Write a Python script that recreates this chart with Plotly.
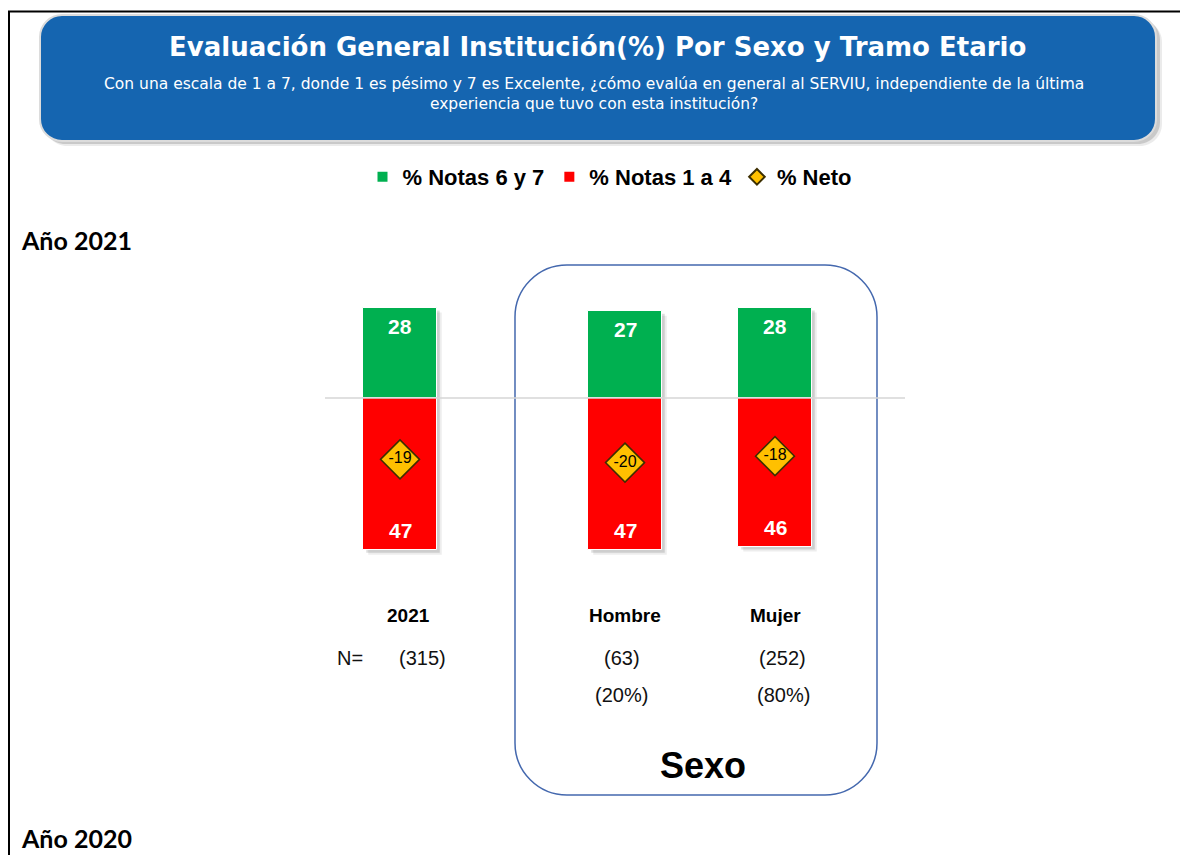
import plotly.graph_objects as go

# the page body has an 8px margin, so the figure starts at (8, 8) on screen
OX, OY = 8, 8
W, H = 1180, 847

# data
categories = ["2021", "Hombre", "Mujer"]
notas_6_7 = [28, 27, 28]
notas_1_4 = [47, 47, 46]
neto = [-19, -20, -18]
n_casos = ["(315)", "(63)", "(252)"]
pct_casos = ["", "(20%)", "(80%)"]

title = "Evaluación General Institución(%) Por Sexo y Tramo Etario"
subtitle = ("Con una escala de 1 a 7, donde 1 es pésimo y 7 es Excelente, ¿cómo evalúa en general al SERVIU, "
            "independiente de la última<br>experiencia que tuvo con esta institución?")

GREEN = "#00B050"
RED = "#FF0000"
GOLD = "#FFC000"
BLUE = "#1565B0"
ARIAL = "Liberation Sans, Arial"
WIDE = "DejaVu Sans, Liberation Sans, Arial"

# layout positions of the categories on the x axis (gap before the Sexo group)
x_pos = [0, 1.5, 2.5]
BAR_W = 0.49

# y: 3.23 px per point, zero at screen pixel 398
y_top_px, y_bot_px, zero_px, scale = 290, 570, 398, 3.23
# x: 150 px per unit, first category at screen pixel 400
x_left_px, x_right_px, x_unit = 325, 925, 150


def px(x):
    """screen pixel x -> paper"""
    return (x - OX) / W


def py(y):
    """screen pixel y -> paper"""
    return 1 - (y - OY) / H


def rounded_path(x0, y0, x1, y1, r):
    """rounded rectangle in screen pixels -> svg path in paper coords"""
    k = 0.552 * r

    def p(x, y):
        return f"{px(x):.5f},{py(y):.5f}"
    return (f"M {p(x0 + r, y0)} L {p(x1 - r, y0)} "
            f"C {p(x1 - r + k, y0)} {p(x1, y0 + r - k)} {p(x1, y0 + r)} "
            f"L {p(x1, y1 - r)} "
            f"C {p(x1, y1 - r + k)} {p(x1 - r + k, y1)} {p(x1 - r, y1)} "
            f"L {p(x0 + r, y1)} "
            f"C {p(x0 + r - k, y1)} {p(x0, y1 - r + k)} {p(x0, y1 - r)} "
            f"L {p(x0, y0 + r)} "
            f"C {p(x0, y0 + r - k)} {p(x0 + r - k, y0)} {p(x0 + r, y0)} Z")


def paper_text(x, y, text, size, family=ARIAL, color="black", xanchor="center"):
    return dict(x=px(x), y=py(y), xref="paper", yref="paper", text=text, showarrow=False,
                xanchor=xanchor, yanchor="middle", font=dict(family=family, size=size, color=color))


fig = go.Figure()

fig.add_trace(go.Bar(x=x_pos, y=notas_6_7, name="<b>% Notas 6 y 7</b>",
                     marker=dict(color=GREEN, line=dict(color="white", width=1)),
                     width=BAR_W, hoverinfo="skip"))
fig.add_trace(go.Bar(x=x_pos, y=[-v for v in notas_1_4], name="<b>% Notas 1 a 4</b>",
                     marker=dict(color=RED, line=dict(color="white", width=1)),
                     width=BAR_W, hoverinfo="skip"))
fig.add_trace(go.Scatter(x=x_pos, y=neto, name="<b>% Neto</b>", mode="markers+text",
                         text=[str(v) for v in neto], textposition="middle center",
                         textfont=dict(family=ARIAL, size=16, color="black"),
                         marker=dict(symbol="diamond", size=30, color=GOLD,
                                     line=dict(color="#3d2f00", width=1.5)),
                         hoverinfo="skip"))

annotations = []
for x, g, r in zip(x_pos, notas_6_7, notas_1_4):
    annotations.append(dict(x=x, y=g, yshift=-19, text=f"<b>{g}</b>", showarrow=False,
                            yanchor="middle", font=dict(family=ARIAL, size=21, color="white")))
    annotations.append(dict(x=x, y=-r, yshift=19, text=f"<b>{r}</b>", showarrow=False,
                            yanchor="middle", font=dict(family=ARIAL, size=21, color="white")))

# category labels and sample sizes
label_shift = [8, 0, 0]
n_shift = [22, -3, 7]
pct_shift = [0, -4, 8]
for i, (x, c) in enumerate(zip(x_pos, categories)):
    annotations.append(dict(x=x, xshift=label_shift[i], y=py(615), yref="paper", yanchor="middle",
                            text=f"<b>{c}</b>", showarrow=False,
                            font=dict(family=ARIAL, size=19, color="black")))
    annotations.append(dict(x=x, xshift=n_shift[i], y=py(658), yref="paper", yanchor="middle",
                            text=n_casos[i], showarrow=False,
                            font=dict(family=ARIAL, size=20, color="#111111")))
    if pct_casos[i]:
        annotations.append(dict(x=x, xshift=pct_shift[i], y=py(695), yref="paper", yanchor="middle",
                                text=pct_casos[i], showarrow=False,
                                font=dict(family=ARIAL, size=20, color="#111111")))

annotations.append(paper_text(335, 658, "N=", 20, color="#111111", xanchor="left"))
annotations.append(paper_text(703, 765, "<b>Sexo</b>", 36))

# header texts
annotations.append(paper_text(597, 47, f"<b>{title}</b>", 26, family=WIDE, color="white"))
annotations.append(paper_text(594, 94, subtitle, 15.5, family=WIDE, color="white"))

# section labels
for t, yy in [("Año 2021", 240), ("Año 2020", 838)]:
    annotations.append(paper_text(19, yy, f"<b>{t}</b>", 25,
                                  family="Lato, Open Sans, sans-serif", xanchor="left"))

shapes = [
    # page frame
    dict(type="line", xref="paper", yref="paper", x0=px(8), x1=px(1188), y0=py(11.5), y1=py(11.5),
         line=dict(color="black", width=2)),
    dict(type="line", xref="paper", yref="paper", x0=px(9), x1=px(9), y0=py(11), y1=py(855),
         line=dict(color="black", width=2)),
    # header box shadow + box
    dict(type="path", xref="paper", yref="paper", path=rounded_path(45, 20, 1162, 146, 22),
         fillcolor="rgba(0,0,0,0.08)", line=dict(width=0), layer="below"),
    dict(type="path", xref="paper", yref="paper", path=rounded_path(43, 18, 1160, 144, 22),
         fillcolor="rgba(0,0,0,0.14)", line=dict(width=0), layer="below"),
    dict(type="path", xref="paper", yref="paper", path=rounded_path(40, 15, 1156, 141, 22),
         fillcolor=BLUE, line=dict(color="#dcdcdc", width=2), layer="below"),
    # Sexo group box
    dict(type="path", xref="paper", yref="paper", path=rounded_path(515, 265, 877, 795, 52),
         fillcolor="rgba(0,0,0,0)", line=dict(color="#4468AE", width=1.5)),
    # baseline
    dict(type="line", xref="paper", yref="y", x0=px(325), x1=px(905), y0=0, y1=0,
         line=dict(color="#d6d6d6", width=1.5), layer="above"),
]

# soft drop shadow behind every bar stack (offset down/right by a few pixels)
for x, g, r in zip(x_pos, notas_6_7, notas_1_4):
    for off, alpha in [(5, 0.07), (3, 0.13)]:
        dx, dy = off / x_unit, off / scale
        shapes.append(dict(type="rect", xref="x", yref="y", layer="below",
                           x0=x - BAR_W / 2 + dx, x1=x + BAR_W / 2 + dx,
                           y0=g - dy, y1=-r - dy,
                           fillcolor=f"rgba(0,0,0,{alpha})", line=dict(width=0)))

fig.update_layout(
    width=W, height=H,
    margin=dict(l=0, r=0, t=0, b=0),
    paper_bgcolor="white", plot_bgcolor="white",
    barmode="relative", bargap=0,
    showlegend=True,
    legend=dict(orientation="h", x=px(610), xanchor="center", y=py(177), yanchor="middle",
                font=dict(family=ARIAL, size=22, color="black"), itemsizing="constant",
                traceorder="normal", itemwidth=30, bgcolor="rgba(0,0,0,0)"),
    xaxis=dict(domain=[px(x_left_px), px(x_right_px)],
               range=[-(400 - x_left_px) / x_unit, (x_right_px - 400) / x_unit],
               visible=False, fixedrange=True),
    yaxis=dict(domain=[py(y_bot_px), py(y_top_px)],
               range=[-(y_bot_px - zero_px) / scale, (zero_px - y_top_px) / scale],
               visible=False, fixedrange=True),
    annotations=annotations,
    shapes=shapes,
)

fig.write_html("out.html")
